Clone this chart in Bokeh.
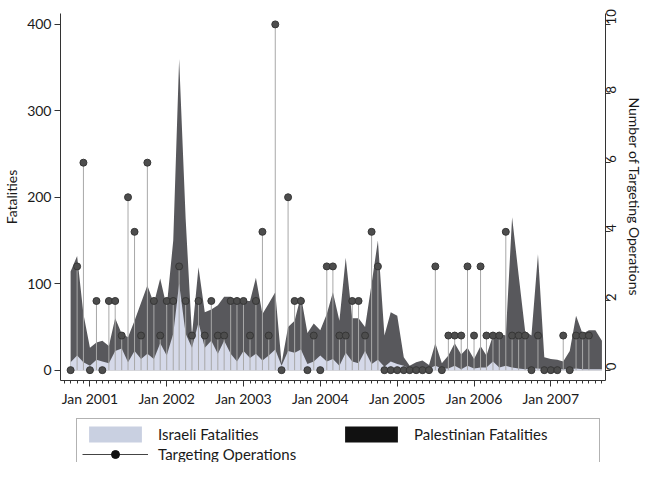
import math
import pandas as pd
from bokeh.plotting import figure
from bokeh.layouts import column
from bokeh.models import (ColumnDataSource, Range1d, LinearAxis, FixedTicker,
                          DatetimeTickFormatter, Legend, LegendItem)
from bokeh.embed import file_html
from bokeh.resources import INLINE

# ---- data (monthly, Oct 2000 - Sep 2007) ----
first_month = "2000-10-01"
palestinian = [114, 132, 65, 26, 32, 34, 28, 60, 42, 38, 57, 78,
               98, 77, 106, 73, 150, 360, 175, 40, 119, 67, 70, 75,
               85, 85, 80, 80, 80, 107, 65, 77, 90, 8, 50, 57,
               86, 43, 54, 46, 65, 90, 57, 130, 60, 60, 50, 100,
               150, 40, 67, 63, 15, 5, 9, 11, 6, 31, 8, 17,
               31, 18, 26, 13, 28, 17, 40, 42, 40, 177, 110, 45,
               40, 134, 15, 13, 12, 10, 22, 63, 42, 46, 46, 34]
israeli = [9, 17, 9, 5, 12, 10, 8, 22, 25, 9, 22, 13,
           19, 13, 31, 17, 42, 100, 42, 26, 55, 26, 34, 19,
           34, 19, 10, 22, 14, 19, 11, 17, 24, 5, 22, 20,
           24, 7, 10, 17, 10, 13, 5, 20, 10, 8, 22, 7,
           12, 4, 10, 7, 5, 2, 3, 2, 2, 5, 2, 2,
           5, 1, 5, 2, 3, 3, 10, 3, 5, 3, 2, 1,
           2, 2, 1, 3, 1, 1, 1, 2, 1, 1, 1, 1]
targeting_ops = [0, 3, 6, 0, 2, 0, 2, 2, 1, 5, 4, 1,
                 6, 2, 1, 2, 2, 3, 2, 1, 2, 1, 2, 1,
                 1, 2, 2, 2, 1, 2, 4, 1, 10, 0, 5, 2,
                 2, 0, 1, 0, 3, 3, 1, 1, 2, 2, 1, 4,
                 3, 0, 0, 0, 0, 0, 0, 0, 0, 3, 0, 1,
                 1, 1, 3, 1, 3, 1, 1, 1, 4, 1, 1, 1,
                 0, 1, 0, 0, 0, 1, 0, 1, 1, 1]
tick_years = [2001, 2002, 2003, 2004, 2005, 2006, 2007]
tick_labels = ["Jan 2001", "Jan 2002", "Jan 2003", "Jan 2004",
               "Jan 2005", "Jan 2006", "Jan 2007"]
left_ticks = [0, 100, 200, 300, 400]
right_ticks = [0, 2, 4, 6, 8, 10]

months = pd.date_range(first_month, periods=len(palestinian), freq="MS")
area_src = ColumnDataSource(dict(x=months, pal=palestinian, isr=israeli))
ops_src = ColumnDataSource(dict(x=months[:len(targeting_ops)], ops=targeting_ops,
                                zero=[0] * len(targeting_ops)))

FONT = "Lato"
TXT = "#1a1a1a"
PAL_C = "#58585c"
ISR_C = "#d5d9e9"
STEM_C = "#a8a8a8"
DOT_FILL = "#4d4d4d"
DOT_LINE = "#363636"

p = figure(width=645, height=418, output_backend="svg", toolbar_location=None,
           x_axis_type="datetime",
           x_range=Range1d(pd.Timestamp("2000-08-14"), pd.Timestamp("2007-09-18")),
           y_range=Range1d(-12, 412.6),
           min_border_left=59, min_border_right=40, min_border_top=13,
           min_border_bottom=38, outline_line_color=None)
p.extra_y_ranges = {"ops": Range1d(-0.3, 10.315)}
p.xgrid.visible = False
p.ygrid.visible = False

p.varea(x="x", y1=0, y2="pal", source=area_src, fill_color=PAL_C)
p.varea(x="x", y1=0, y2="isr", source=area_src, fill_color=ISR_C)
p.segment(x0="x", y0="zero", x1="x", y1="ops", source=ops_src,
          y_range_name="ops", line_color=STEM_C, line_width=1)
p.scatter(x="x", y="ops", source=ops_src, y_range_name="ops", size=7,
          fill_color=DOT_FILL, line_color=DOT_LINE)

# x axis
xa = p.xaxis[0]
maj = [pd.Timestamp(f"{y}-01-01").value // 10**6 for y in tick_years]
minor = [d.value // 10**6 for d in pd.date_range("2000-09-01", "2007-09-01", freq="MS")]
xa.ticker = FixedTicker(ticks=maj, minor_ticks=minor)
xa.formatter = DatetimeTickFormatter(years="%b %Y", months="%b %Y", days="%b %Y")
xa.major_label_overrides = {float(t): l for t, l in zip(maj, tick_labels)}

# left axis
ya = p.yaxis[0]
ya.ticker = FixedTicker(ticks=left_ticks)
ya.axis_label = "Fatalities"

# right axis
ra = LinearAxis(y_range_name="ops", ticker=FixedTicker(ticks=right_ticks),
                axis_label="Number of Targeting Operations")
p.add_layout(ra, "right")

for ax in (xa, ya, ra):
    ax.axis_line_color = "#333333"
    ax.major_tick_line_color = "#333333"
    ax.major_tick_out = 6
    ax.major_tick_in = 0
    ax.major_label_text_font = FONT
    ax.major_label_text_font_size = "14px"
    ax.major_label_text_color = TXT
    ax.major_label_standoff = 3
    ax.axis_label_text_font = FONT
    ax.axis_label_text_font_size = "14px"
    ax.axis_label_text_font_style = "normal"
    ax.axis_label_text_color = TXT
    ax.axis_label_standoff = 4
xa.minor_tick_line_color = "#333333"
xa.minor_tick_out = 3
xa.minor_tick_in = 0
ya.minor_tick_line_color = None
ra.minor_tick_line_color = None
ra.major_tick_out = 5
ra.major_label_standoff = 1
ra.axis_label_standoff = 1
ra.major_label_text_font_size = "13px"
ra.major_label_orientation = math.pi / 2

# ---- legend strip below the chart ----
lp = figure(width=645, height=44, output_backend="svg", toolbar_location=None,
            x_axis_location=None, y_axis_location=None,
            min_border_left=59, min_border_right=40, min_border_top=0,
            min_border_bottom=0, outline_line_color=None,
            x_range=Range1d(0, 1), y_range=Range1d(0, 1))
lp.xgrid.visible = False
lp.ygrid.visible = False
nan = float("nan")
sw_src = ColumnDataSource(dict(x=[nan], y=[nan]))
g_isr = lp.varea(x="x", y1="y", y2="y", source=sw_src, fill_color="#c9d0e1")
g_pal = lp.varea(x="x", y1="y", y2="y", source=sw_src, fill_color="#111111")
g_line = lp.segment(x0="x", y0="y", x1="x", y1="y", source=sw_src,
                    line_color="#444444", line_width=1)
g_dot = lp.scatter(x="x", y="y", source=sw_src, size=6,
                   fill_color="#111111", line_color="#111111")

legend = Legend(items=[
    LegendItem(label="Israeli Fatalities", renderers=[g_isr]),
    LegendItem(label="Palestinian Fatalities", renderers=[g_pal]),
    LegendItem(label="Targeting Operations", renderers=[g_line, g_dot]),
], location=(16, -8), orientation="horizontal", ncols=2,
    glyph_width=66, glyph_height=20, label_standoff=10, spacing=0,
    padding=5, label_width=180, label_height=18, margin=0,
    label_text_font=FONT, label_text_font_size="15px", label_text_color=TXT,
    border_line_color="#666666", border_line_width=1,
    background_fill_color="white", background_fill_alpha=1.0)
lp.add_layout(legend, "center")

open("out.html", "w").write(file_html(column(p, lp, spacing=0), INLINE))
